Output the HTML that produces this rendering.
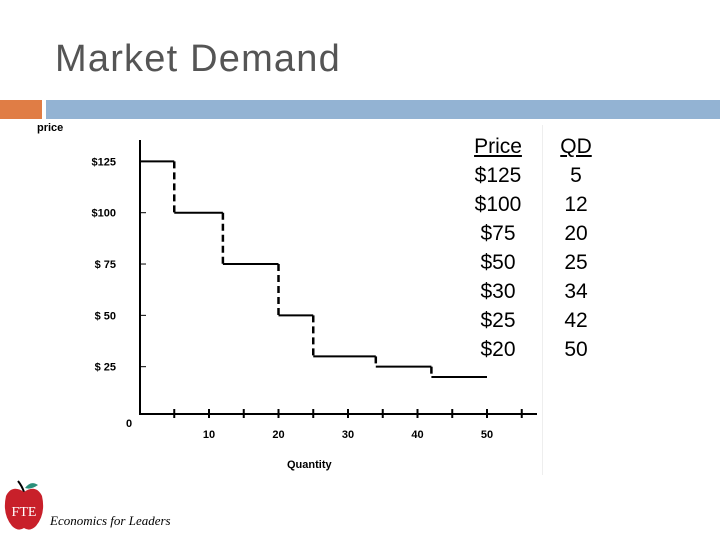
<!DOCTYPE html>
<html><head><meta charset="utf-8"><style>
body{margin:0;width:720px;height:540px;background:#fff;overflow:hidden;position:relative;font-family:"Liberation Sans",sans-serif}
#title{position:absolute;left:55px;top:38px;font-size:38px;color:#555;letter-spacing:1.2px}
.tbl{position:absolute;top:132px;font-size:21px;line-height:29px;text-align:center;color:#000}
</style></head><body>
<div id="title">Market Demand</div>
<div style="position:absolute;left:0;top:100px;width:42px;height:19px;background:#e07d45"></div>
<div style="position:absolute;left:46px;top:100px;width:674px;height:19px;background:#93b3d3"></div>
<div style="position:absolute;left:542px;top:125px;width:1px;height:350px;background:#eee"></div>
<svg id="chart" width="720" height="540" style="position:absolute;left:0;top:0">
<text x="37" y="131" font-size="11" font-weight="bold" font-family="Liberation Sans">price</text>
<text x="287" y="468" font-size="11" font-weight="bold" font-family="Liberation Sans">Quantity</text>
<text x="126" y="427" font-size="11" font-weight="bold" font-family="Liberation Sans">0</text>
<g id="g"></g>
</svg>
<div class="tbl" style="left:466px;width:64px"><u>Price</u><br>$125<br>$100<br>$75<br>$50<br>$30<br>$25<br>$20</div>
<div class="tbl" style="left:550px;width:52px"><u>QD</u><br>5<br>12<br>20<br>25<br>34<br>42<br>50</div>
<svg width="180" height="70" style="position:absolute;left:0;top:470px">
<path d="M18 11 Q22 16 24 22" stroke="#000" stroke-width="2" fill="none"/>
<path d="M25 18 Q31 10 38 15 Q31 20 25 18Z" fill="#2a8f7a"/>
<path d="M24 22 Q12 14 6 26 Q2 44 12 56 Q18 62 24 58 Q30 62 36 56 Q46 44 42 26 Q36 14 24 22Z" fill="#c8202a"/>
<text x="24" y="46" font-size="14" fill="#fff" text-anchor="middle" font-family="Liberation Serif">FTE</text>
<text x="50" y="55" font-size="13" font-style="italic" font-family="Liberation Serif">Economics for Leaders</text>
</svg>
<script>
const prices=[125,100,75,50,30,25,20];
const qds=[5,12,20,25,34,42,50];
const xTicks=[10,20,30,40,50];
const yTicks=[25,50,75,100,125];
const yTickLabels=["$ 25","$ 50","$ 75","$100","$125"];
const NS="http://www.w3.org/2000/svg";
const g=document.getElementById('g');
const X=q=>139.5+q*6.95, Y=p=>418-p*2.053;
function el(t,a){const e=document.createElementNS(NS,t);for(const k in a)e.setAttribute(k,a[k]);g.appendChild(e);return e;}
let ax=el('line',{x1:140,y1:140,x2:140,y2:415,stroke:'#000','stroke-width':2});


let bx=el('line',{x1:139,y1:414,x2:537,y2:414,stroke:'#000','stroke-width':2});


for(let q=5;q<=55;q+=5){let t=el('line',{x1:X(q),y1:409,x2:X(q),y2:418,stroke:'#000','stroke-width':2});

}
xTicks.forEach(v=>{let t=el('text',{x:X(v),y:438,'font-size':11,'font-weight':'bold','text-anchor':'middle','font-family':'Liberation Sans'});t.textContent=v;

});
yTicks.forEach((v,i)=>{let t=el('text',{x:116,y:Y(v)+4,'font-size':11,'font-weight':'bold','text-anchor':'end','font-family':'Liberation Sans'});t.textContent=yTickLabels[i];


el('line',{x1:140,y1:Y(v),x2:146,y2:Y(v),stroke:'#000','stroke-width':1});});
let prevQ=0;
prices.forEach((p,i)=>{
 if(i>0){let d=el('line',{x1:X(prevQ),y1:Y(prices[i-1]),x2:X(prevQ),y2:Y(p),stroke:'#000','stroke-width':2.5,'stroke-dasharray':'7,4'});
 
 }
 let h=el('line',{x1:X(prevQ),y1:Y(p),x2:X(qds[i]),y2:Y(p),stroke:'#000','stroke-width':2});
 
 
 prevQ=qds[i];
});
</script>
</body></html>
